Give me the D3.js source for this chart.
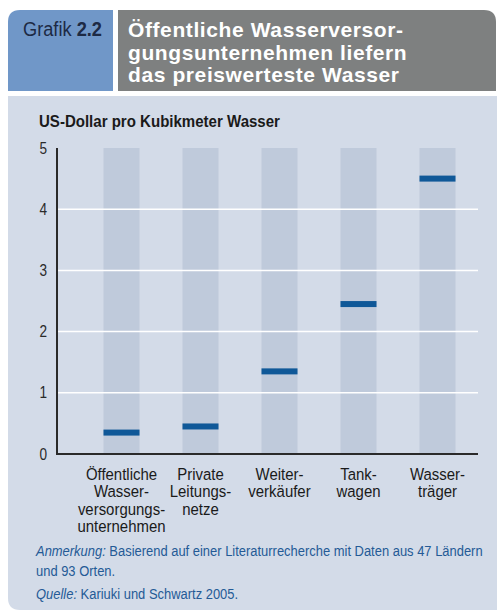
<!DOCTYPE html>
<html>
<head>
<meta charset="utf-8">
<script src="https://cdn.jsdelivr.net/npm/d3@7"></script>
<style>
  html, body { margin: 0; padding: 0; background: #fff; }
  svg { display: block; }
  text { font-family: "Liberation Sans", Arial, sans-serif; }
</style>
</head>
<body>
<svg width="497" height="612"></svg>
<script>
const categories = [
  ["Öffentliche", "Wasser-", "versorgungs-", "unternehmen"],
  ["Private", "Leitungs-", "netze"],
  ["Weiter-", "verkäufer"],
  ["Tank-", "wagen"],
  ["Wasser-", "träger"]
];
const prices = [0.35, 0.45, 1.35, 2.45, 4.5];
const yTicks = [0, 1, 2, 3, 4, 5];
const titleLines = ["Öffentliche Wasserversor-", "gungsunternehmen liefern", "das preiswerteste Wasser"];
const yTitle = "US-Dollar pro Kubikmeter Wasser";

const svg = d3.select("svg");

// no condensed font around, so squeeze text horizontally about an anchor x
function squeeze(sel, ax, sx) {
  sel.attr("transform", `translate(${ax},0) scale(${sx},1) translate(${-ax},0)`);
}
function fitTo(sel, ax, width) {
  const len = sel.node().getComputedTextLength();
  squeeze(sel, ax, width / len);
}

// header
svg.append("path")
  .attr("d", "M8,91 L8,22 Q8,10 20,10 L113,10 L113,91 Z")
  .attr("fill", "#7097c8");
svg.append("path")
  .attr("d", "M118,91 L118,10 L484,10 Q496,10 496,22 L496,91 Z")
  .attr("fill", "#7e8080");

const g22 = svg.append("text")
  .attr("x", 23).attr("y", 36).attr("font-size", 20).attr("fill", "#1d2a44");
g22.append("tspan").text("Grafik ");
g22.append("tspan").attr("font-weight", "bold").text("2.2");
fitTo(g22, 23, 79);

svg.append("g").selectAll("text").data(titleLines).join("text")
  .attr("x", 128).attr("y", (d, i) => 37 + i * 22.5)
  .attr("font-weight", "bold").attr("font-size", 21).attr("letter-spacing", 0.6)
  .attr("fill", "#fff")
  .text(d => d);

// panel
svg.append("path")
  .attr("d", "M8,96 L497,96 L497,610 L20,610 Q8,610 8,598 Z")
  .attr("fill", "#d3dbe8");

const x0 = 57, x1 = 478, yBase = 454, yTop = 148;
const x = d3.scaleBand().domain(d3.range(categories.length))
  .range([82, 477]).paddingInner(0.544).paddingOuter(0.272);
const y = d3.scaleLinear().domain([0, 5]).range([yBase, yTop]);

const yt = svg.append("text")
  .attr("x", 39).attr("y", 127).attr("font-size", 17).attr("font-weight", "bold")
  .attr("fill", "#1a1a1a").text(yTitle);
fitTo(yt, 39, 241);

// columns
svg.append("g").selectAll("rect").data(prices).join("rect")
  .attr("x", (d, i) => x(i)).attr("width", x.bandwidth())
  .attr("y", y(5)).attr("height", y(0) - y(5))
  .attr("fill", "#bfcadb");

// gridlines
svg.append("g").selectAll("line").data(yTicks.filter(t => t > 0 && t < 5)).join("line")
  .attr("x1", x0).attr("x2", x1).attr("y1", d => y(d)).attr("y2", d => y(d))
  .attr("stroke", "#fff").attr("stroke-width", 1.5);

// markers
svg.append("g").selectAll("rect").data(prices).join("rect")
  .attr("x", (d, i) => x(i)).attr("width", x.bandwidth())
  .attr("y", d => y(d) - 3).attr("height", 6)
  .attr("fill", "#0f5898");

// axes
const yAxis = d3.axisLeft(y).tickValues(yTicks).tickFormat(d3.format("d")).tickSize(0).tickPadding(10);
const ya = svg.append("g").attr("transform", `translate(${x0},0)`).call(yAxis);
ya.select(".domain").remove();
ya.selectAll("text").attr("font-family", "Liberation Sans, Arial, sans-serif")
  .attr("font-size", 16).attr("fill", "#2a2a2a")
  .each(function () { squeeze(d3.select(this), -10, 0.85); });

svg.append("line").attr("x1", x0).attr("x2", x0).attr("y1", y(5)).attr("y2", yBase + 1)
  .attr("stroke", "#2a2a2a").attr("stroke-width", 2);
svg.append("line").attr("x1", x0 - 1).attr("x2", x1).attr("y1", yBase).attr("y2", yBase)
  .attr("stroke", "#2a2a2a").attr("stroke-width", 2);

// x labels
const xl = svg.append("g").selectAll("text").data(categories).join("text")
  .attr("text-anchor", "middle")
  .attr("font-size", 17).attr("fill", "#1a1a1a")
  .attr("x", (d, i) => x(i) + x.bandwidth() / 2).attr("y", 480)
  .each(function (d, i) { squeeze(d3.select(this), x(i) + x.bandwidth() / 2, 0.88); });
xl.selectAll("tspan").data(d => d).join("tspan")
  .attr("x", function () { return this.parentNode.getAttribute("x"); })
  .attr("y", (d, i) => 480 + i * 17.5).text(d => d);

// notes
const note = svg.append("g").attr("font-size", 15).attr("fill", "#245a96");
const n1 = note.append("text").attr("x", 36).attr("y", 556);
n1.append("tspan").attr("font-style", "italic").text("Anmerkung:");
n1.append("tspan").text(" Basierend auf einer Literaturrecherche mit Daten aus 47 Ländern");
const n2 = note.append("text").attr("x", 36).attr("y", 576).text("und 93 Orten.");
const n3 = note.append("text").attr("x", 36).attr("y", 599);
n3.append("tspan").attr("font-style", "italic").text("Quelle:");
n3.append("tspan").text(" Kariuki und Schwartz 2005.");
const noteScale = 447 / n1.node().getComputedTextLength();
[n1, n2, n3].forEach(t => squeeze(t, 36, noteScale));
</script>
</body>
</html>
